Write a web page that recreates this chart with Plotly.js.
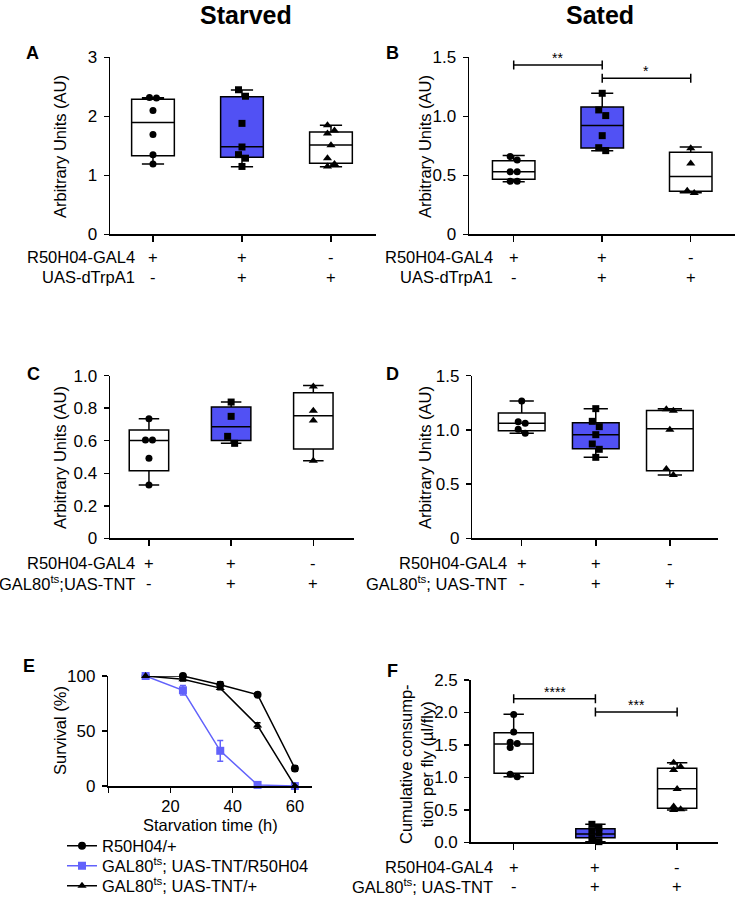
<!DOCTYPE html>
<html><head><meta charset="utf-8">
<script src="https://cdn.plot.ly/plotly-3.0.1.min.js"></script>
<style>html,body{margin:0;padding:0;background:#fff}#chart{width:736px;height:898px}</style>
</head><body><div id="chart"></div>
<script>
// ---------------- DATA ----------------
const genoGal4 = ['+', '+', '-'];
const genoUAS  = ['-', '+', '+'];
const rowsTrp  = ['R50H04-GAL4', 'UAS-dTrpA1'];
const rowsTNTc = ['R50H04-GAL4', 'GAL80<sup>ts</sup>;UAS-TNT'];
const rowsTNT  = ['R50H04-GAL4', 'GAL80<sup>ts</sup>; UAS-TNT'];

// Panel A – starved, dTrpA1
const A_g1 = [2.31, 2.32, 2.10, 1.69, 1.35, 1.19];
const A_g2 = [2.45, 2.34, 1.88, 1.48, 1.35, 1.29, 1.15];
const A_g3 = [1.85, 1.76, 1.71, 1.51, 1.29, 1.19, 1.15];
const A_lo = [1.192, 1.147, 1.147], A_q1 = [1.333, 1.305, 1.203], A_med = [1.893, 1.486, 1.514], A_q3 = [2.288, 2.333, 1.734], A_hi = [2.316, 2.446, 1.847];
const A_yticks = [0, 1, 2, 3], A_ylabels = ['0', '1', '2', '3'];

// Panel B – sated, dTrpA1
const B_g1 = [0.66, 0.63, 0.53, 0.53, 0.45, 0.45];
const B_g2 = [1.195, 1.054, 1.006, 0.836, 0.734, 0.709];
const B_g3 = [0.73, 0.60, 0.37, 0.35];
const B_lo = [0.446, 0.709, 0.353], B_q1 = [0.466, 0.732, 0.364], B_med = [0.531, 0.921, 0.489], B_q3 = [0.624, 1.079, 0.695], B_hi = [0.667, 1.195, 0.740];
const B_yticks = [0, 0.5, 1.0, 1.5], B_ylabels = ['0', '0.5', '1.0', '1.5'];
const B_brFrom = [0, 1], B_brTo = [1, 2], B_brY = [1.435, 1.322], B_brText = ['**', '*'];

// Panel C – starved, TNT
const C_g1 = [0.736, 0.605, 0.605, 0.492, 0.328];
const C_g2 = [0.838, 0.75, 0.627, 0.584];
const C_g3 = [0.934, 0.785, 0.725, 0.477];
const C_lo = [0.328, 0.584, 0.477], C_q1 = [0.416, 0.602, 0.549], C_med = [0.602, 0.686, 0.754], C_q3 = [0.666, 0.807, 0.895], C_hi = [0.736, 0.838, 0.939];
const C_yticks = [0, 0.2, 0.4, 0.6, 0.8, 1.0], C_ylabels = ['0', '0.2', '0.4', '0.6', '0.8', '1.0'];

// Panel D – sated, TNT
const D_g1 = [1.266, 1.076, 1.061, 1.005, 0.968];
const D_g2 = [1.196, 1.079, 1.030, 0.956, 0.870, 0.821, 0.747];
const D_g3 = [1.19, 1.177, 1.002, 0.639, 0.584];
const D_lo = [0.968, 0.747, 0.584], D_q1 = [0.993, 0.827, 0.624], D_med = [1.061, 0.956, 1.011], D_q3 = [1.156, 1.067, 1.180], D_hi = [1.266, 1.196, 1.196];
const D_yticks = [0, 0.5, 1.0, 1.5], D_ylabels = ['0', '0.5', '1.0', '1.5'];

// Panel E – survival
const E_time = [12, 24, 36, 48, 60];
const E_surv1 = [100, 100, 92, 83, 16], E_err1 = [0.5, 1, 2.7, 1.5, 2.5];
const E_surv2 = [100, 87, 32, 1, 0],    E_err2 = [0, 4.3, 9.4, 1, 0];
const E_surv3 = [100, 97, 89, 55, 0],   E_err3 = [0, 1.5, 1.5, 2.5, 0];
const E_names = ['R50H04/+', 'GAL80<sup>ts</sup>; UAS-TNT/R50H04', 'GAL80<sup>ts</sup>; UAS-TNT/+'];
const E_sigX = [35, 35, 48, 48], E_sigY = [114, 105, 114, 105], E_sigT = ['***', '**', '****', '****'];
const E_xticks = [0, 20, 40, 60], E_xlabels = ['', '20', '40', '60'];
const E_yticks = [0, 50, 100], E_ylabels = ['0', '50', '100'];

// Panel F – consumption
const F_g1 = [1.97, 1.70, 1.54, 1.52, 1.46, 1.05, 1.01];
const F_g2 = [0.277, 0.231, 0.175, 0.139, 0.072, 0.01];
const F_g3 = [1.227, 1.165, 1.114, 0.82, 0.55, 0.51, 0.498];
const F_lo = [1.011, 0.01, 0.498], F_q1 = [1.063, 0.072, 0.524], F_med = [1.514, 0.128, 0.826], F_q3 = [1.689, 0.210, 1.140], F_hi = [1.971, 0.277, 1.227];
const F_yticks = [0, 0.5, 1.0, 1.5, 2.0, 2.5], F_ylabels = ['0.0', '0.5', '1.0', '1.5', '2.0', '2.5'];
const F_brFrom = [0, 1], F_brTo = [1, 2], F_brY = [2.212, 2.007], F_brText = ['****', '***'];

// ---------------- LAYOUT / STYLE ----------------
const W = 736, H = 898;
const FONT = 'Liberation Sans, Arial, Helvetica, sans-serif';
const PX = x => x / W, PY = y => 1 - y / H;
const BLUE_FILL = '#5151f4', BLUE_LINE = '#6262fb';
const SYMBOLS = ['circle', 'square', 'triangle-up'];
const SIZES = [7, 7, 8];
const FS = 16.5;
const LETTER_FONT = {family: FONT, size: 18, color: '#000', weight: 'bold'};

const boxPanels = [
  {n: 1, xd: [110, 376], yd: [57.3, 234.3], xr: [-0.483, 2.506], yr: [0, 3], groups: [A_g1, A_g2, A_g3],
   lo: A_lo, q1: A_q1, med: A_med, q3: A_q3, hi: A_hi, yt: A_yticks, yl: A_ylabels, bw: 0.48,
   rows: rowsTrp, rowRight: 137, rowY: [257, 277], letter: 'A', lx: 32, ly: 53, ytx: 60, yty: 147},
  {n: 2, xd: [469, 735], yd: [57.3, 234.3], xr: [-0.505, 2.5], yr: [0, 1.5], groups: [B_g1, B_g2, B_g3],
   lo: B_lo, q1: B_q1, med: B_med, q3: B_q3, hi: B_hi, yt: B_yticks, yl: B_ylabels, bw: 0.48,
   rows: rowsTrp, rowRight: 495, rowY: [257, 277], letter: 'B', lx: 392, ly: 53, ytx: 425, yty: 147,
   br: [B_brFrom, B_brTo, B_brY, B_brText]},
  {n: 3, xd: [110, 354], yd: [375.7, 538.3], xr: [-0.474, 2.495], yr: [0, 1.0], groups: [C_g1, C_g2, C_g3],
   lo: C_lo, q1: C_q1, med: C_med, q3: C_q3, hi: C_hi, yt: C_yticks, yl: C_ylabels, bw: 0.48,
   rows: rowsTNTc, rowRight: 137, rowY: [563, 583], letter: 'C', lx: 33, ly: 374, ytx: 60, yty: 458},
  {n: 4, xd: [472.3, 718], yd: [375.7, 538.3], xr: [-0.667, 2.65], yr: [0, 1.5], groups: [D_g1, D_g2, D_g3],
   lo: D_lo, q1: D_q1, med: D_med, q3: D_q3, hi: D_hi, yt: D_yticks, yl: D_ylabels, bw: 0.63,
   rows: rowsTNT, rowRight: 509, rowY: [563, 583], letter: 'D', lx: 393, ly: 374, ytx: 425, yty: 458},
  {n: 6, xd: [470.7, 718], yd: [680, 842.3], xr: [-0.526, 2.5], yr: [0, 2.5], groups: [F_g1, F_g2, F_g3],
   lo: F_lo, q1: F_q1, med: F_med, q3: F_q3, hi: F_hi, yt: F_yticks, yl: F_ylabels, bw: 0.48,
   rows: rowsTNT, rowRight: 495, rowY: [867, 886], letter: 'F', lx: 392, ly: 671, ytx: 416, yty: 764,
   ytitle: 'Cumulative consump-<br>tion per fly (µl/fly)', br: [F_brFrom, F_brTo, F_brY, F_brText]}
];

const traces = [], shapes = [], annotations = [];
const legendBase = {x: PX(62), xanchor: 'left', yanchor: 'middle', bgcolor: 'rgba(0,0,0,0)',
  font: {family: FONT, size: FS, color: '#000'}, itemwidth: 30, borderwidth: 0};
const layout = {
  width: W, height: H, margin: {l: 0, r: 0, t: 0, b: 0, autoexpand: false},
  paper_bgcolor: '#fff', plot_bgcolor: 'rgba(0,0,0,0)',
  font: {family: FONT, size: FS, color: '#000'},
  showlegend: true,
  legend:  Object.assign({}, legendBase, {y: PY(846)}),
  legend2: Object.assign({}, legendBase, {y: PY(866)}),
  legend3: Object.assign({}, legendBase, {y: PY(886)}),
  shapes: shapes, annotations: annotations
};

function axId(n) { return n === 1 ? '' : String(n); }

function axisPair(n, xd, yd, xr, yr) {
  const s = axId(n);
  layout['xaxis' + s] = {domain: [PX(xd[0]), PX(xd[1])], range: xr, anchor: 'y' + s, automargin: false,
    showline: true, linecolor: '#000', linewidth: 1.5, ticks: 'outside', ticklen: 6, tickwidth: 1.5,
    tickcolor: '#000', showgrid: false, zeroline: false, fixedrange: true};
  layout['yaxis' + s] = {domain: [PY(yd[1]), PY(yd[0])], range: yr, anchor: 'x' + s, automargin: false,
    showline: true, linecolor: '#000', linewidth: 1.5, ticks: 'outside', ticklen: 5, tickwidth: 1.5,
    tickcolor: '#000', showgrid: false, zeroline: false, fixedrange: true,
    tickfont: {family: FONT, size: 17, color: '#000'}, ticklabelstandoff: 3};
}

function swarm(vals, pxU, pxC) {
  const thr = 7 / pxU, d = 7 / pxC;
  const idx = vals.map((v, i) => i).sort((a, b) => vals[b] - vals[a]);
  const offs = new Array(vals.length).fill(0);
  let run = [idx[0]];
  const flush = () => { if (run.length > 1) run.forEach((id, j) => { offs[id] = (j % 2 === 0 ? -d / 2 : d / 2); }); };
  for (let k = 1; k < idx.length; k++) {
    if (vals[run[run.length - 1]] - vals[idx[k]] < thr) run.push(idx[k]);
    else { flush(); run = [idx[k]]; }
  }
  flush();
  return offs;
}

function txt(text, x, y, opts) {
  annotations.push(Object.assign({text: text, x: x, y: y, xref: 'paper', yref: 'paper', showarrow: false,
    xanchor: 'center', yanchor: 'middle', font: {family: FONT, size: FS, color: '#000'}}, opts || {}));
}

boxPanels.forEach(p => {
  const s = axId(p.n);
  axisPair(p.n, p.xd, p.yd, p.xr, p.yr);
  layout['xaxis' + s].tickvals = [0, 1, 2];
  layout['xaxis' + s].showticklabels = false;
  layout['yaxis' + s].tickvals = p.yt;
  layout['yaxis' + s].ticktext = p.yl;
  const pxU = (p.yd[1] - p.yd[0]) / (p.yr[1] - p.yr[0]);
  const pxC = (p.xd[1] - p.xd[0]) / (p.xr[1] - p.xr[0]);
  for (let i = 0; i < 3; i++) {
    traces.push({type: 'box', xaxis: 'x' + s, yaxis: 'y' + s, x: [i],
      q1: [p.q1[i]], median: [p.med[i]], q3: [p.q3[i]], lowerfence: [p.lo[i]], upperfence: [p.hi[i]],
      width: p.bw, whiskerwidth: 0.52, boxpoints: false, fillcolor: i === 1 ? BLUE_FILL : '#fff',
      line: {color: '#000', width: 1.5}, showlegend: false, hoverinfo: 'skip'});
    const offs = swarm(p.groups[i], pxU, pxC);
    traces.push({type: 'scatter', mode: 'markers', xaxis: 'x' + s, yaxis: 'y' + s,
      x: p.groups[i].map((v, j) => i + offs[j]), y: p.groups[i], cliponaxis: false,
      marker: {symbol: SYMBOLS[i], size: SIZES[i], color: '#000', line: {width: 0}},
      showlegend: false, hoverinfo: 'skip'});
  }
  // genotype rows
  p.rows.forEach((r, k) => txt(r, PX(p.rowRight), PY(p.rowY[k]), {xanchor: 'right'}));
  [genoGal4, genoUAS].forEach((g, k) => g.forEach((sym, i) =>
    annotations.push({text: sym, x: i, y: PY(p.rowY[k]), xref: 'x' + s, yref: 'paper', showarrow: false,
      xanchor: 'center', yanchor: 'middle', font: {family: FONT, size: FS, color: '#000'}})));
  // letter & y title
  txt(p.letter, PX(p.lx), PY(p.ly), {font: LETTER_FONT});
  txt(p.ytitle || 'Arbitrary Units (AU)', PX(p.ytx), PY(p.yty), {textangle: -90});
  // significance brackets
  if (p.br) {
    const [fr, to, yy, tt] = p.br;
    fr.forEach((a, k) => {
      const line = {type: 'line', xref: 'x' + s, yref: 'y' + s, line: {color: '#000', width: 1.5}};
      shapes.push(Object.assign({}, line, {x0: a, x1: to[k], y0: yy[k], y1: yy[k]}));
      [a, to[k]].forEach(xv => shapes.push(Object.assign({}, line,
        {x0: xv, x1: xv, ysizemode: 'pixel', yanchor: yy[k], y0: -4.5, y1: 4.5})));
      annotations.push({text: tt[k], x: (a + to[k]) / 2, y: yy[k], xref: 'x' + s, yref: 'y' + s,
        showarrow: false, xanchor: 'center', yanchor: 'bottom', yshift: -3,
        font: {family: FONT, size: 14, color: '#000'}});
    });
  }
});

// Panel E
axisPair(5, [108.3, 312.3], [676, 786], [0, 65.6], [0, 100]);
Object.assign(layout.xaxis5, {tickvals: E_xticks, ticktext: E_xlabels, tickfont: {family: FONT, size: 16.5, color: '#000'},
  ticklen: 5, ticklabelstandoff: 0});
Object.assign(layout.yaxis5, {tickvals: E_yticks, ticktext: E_ylabels});
[[E_surv1, E_err1, '#000', 'circle'], [E_surv2, E_err2, BLUE_LINE, 'square'], [E_surv3, E_err3, '#000', 'triangle-up']]
  .forEach(([yv, ev, col, sym], k) => traces.push({type: 'scatter', mode: 'lines+markers', xaxis: 'x5', yaxis: 'y5',
    x: E_time, y: yv, name: E_names[k], cliponaxis: false, legend: k === 0 ? 'legend' : 'legend' + (k + 1),
    line: {color: col, width: 1.5}, marker: {symbol: sym, size: 8, color: col},
    error_y: {type: 'data', array: ev, visible: true, color: col, thickness: 1.5, width: 3}}));
E_sigX.forEach((xv, k) => annotations.push({text: E_sigT[k], x: xv, y: E_sigY[k], xref: 'x5', yref: 'y5',
  showarrow: false, xanchor: 'center', yanchor: 'middle', yshift: -3, font: {family: FONT, size: 14, color: '#000'}}));
txt('E', PX(29), PY(666), {font: LETTER_FONT});
txt('Survival (%)', PX(60), PY(731), {textangle: -90});
txt('Starvation time (h)', PX(210), PY(825));

// Column titles
txt('Starved', PX(246), PY(15), {font: {family: FONT, size: 25, color: '#000', weight: 'bold'}});
txt('Sated', PX(600), PY(15), {font: {family: FONT, size: 25, color: '#000', weight: 'bold'}});

Plotly.newPlot('chart', traces, layout, {displayModeBar: false, staticPlot: true});
</script></body></html>
